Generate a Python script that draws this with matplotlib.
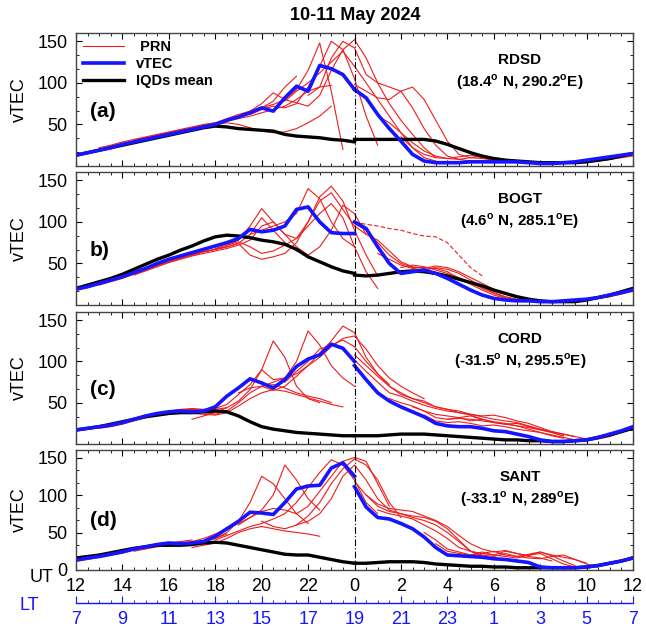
import numpy as np
import matplotlib
matplotlib.use('Agg')
import matplotlib.pyplot as plt
from matplotlib.ticker import MultipleLocator, AutoMinorLocator

plt.rcParams['font.family'] = ['Liberation Sans', 'DejaVu Sans']
plt.rcParams['mathtext.fontset'] = 'custom'
plt.rcParams['mathtext.rm'] = 'Liberation Sans'
plt.rcParams['mathtext.bf'] = 'Liberation Sans:bold'

# time grids (UT), 10 May 12:00 -> 11 May 12:00
ut_10 = np.arange(12, 24.01, 0.5)
ut_11 = np.arange(24, 36.01, 0.5)

stations = ['RDSD', 'BOGT', 'CORD', 'SANT']
coords = [r'(18.4$^{\mathbf{o}}$ N, 290.2$^{\mathbf{o}}$E)',
          r'(4.6$^{\mathbf{o}}$ N, 285.1$^{\mathbf{o}}$E)',
          r'(-31.5$^{\mathbf{o}}$ N, 295.5$^{\mathbf{o}}$E)',
          r'(-33.1$^{\mathbf{o}}$ N, 289$^{\mathbf{o}}$E)']
panel_tags = ['(a)', 'b)', '(c)', '(d)']

ut_ticks = [12, 14, 16, 18, 20, 22, 24, 26, 28, 30, 32, 34, 36]
ut_labels = ['12', '14', '16', '18', '20', '22', '0', '2', '4', '6', '8', '10', '12']
lt_labels = ['7', '9', '11', '13', '15', '17', '19', '21', '23', '1', '3', '5', '7']

# RDSD
vtec_rdsd_10 = [13, 16, 19, 22, 26, 29, 32, 35, 38, 41, 44, 47, 50, 55, 59, 64, 70, 66, 82, 96, 90, 121, 117, 110, 92]
vtec_rdsd_11 = [92, 82, 62, 45, 30, 14, 6, 4, 4, 4, 5, 5, 5, 5, 5, 4, 3, 3, 4, 5, 7, 9, 11, 13, 15]
iqd_rdsd_10 = [13, 16, 19, 22, 25, 28, 31, 34, 37, 40, 43, 46, 48, 47, 45, 44, 43, 42, 38, 36, 35, 34, 32, 31, 29]
iqd_rdsd_11 = [32, 32, 32, 32, 32, 32, 32, 30, 26, 21, 16, 12, 9, 7, 6, 5, 4, 4, 4, 4, 5, 7, 9, 12, 15]
prn_rdsd = [
    (12.0, [14, 17, 20, 24, 27, 30, 33]),
    (13.0, [22, 25, 29, 32, 35, 38, 41, 44, 47, 50, 52]),
    (14.5, [31, 34, 37, 40, 43, 46, 49, 52, 57, 62, 66, 70, 78, 95, 108]),
    (16.0, [39, 42, 45, 48, 51, 54, 57, 60, 64, 68, 72, 80, 90, 95, 97]),
    (17.0, [45, 48, 50, 52, 50, 46, 42, 40, 41, 45, 52, 60, 72]),
    (18.5, [55, 60, 66, 75, 88, 80, 76, 72, 85, 115, 140, 152, 130, 100, 75, 55, 38, 22, 10]),
    (19.5, [62, 68, 72, 70, 75, 95, 120, 150, 140, 105, 60, 25]),
    (20.0, [70, 74, 80, 92, 115, 148, 90, 20]),
    (21.0, [78, 90, 100, 112, 125, 138, 120, 100, 80, 60, 40, 22, 10, 6]),
    (22.0, [85, 95, 130, 150, 142, 110, 100, 95, 90, 70, 45, 25, 12, 8, 6, 6]),
    (24.0, [98, 90, 82, 80, 90, 95, 80, 55, 30, 14, 10, 12, 10, 8, 6, 5]),
    (25.0, [60, 52, 40, 28, 18, 12, 9, 8, 10, 9, 7, 6, 5, 5, 4, 4]),
    (26.0, [35, 22, 14, 10, 9, 11, 13, 10, 8, 7, 6, 5]),
    (29.0, [6, 5, 5, 5, 4, 4, 3, 3, 3, 4, 5, 6, 8, 10, 12]),
    (31.0, [5, 5, 4, 4, 4, 5, 5, 6, 8, 11, 14]),
]

# BOGT
vtec_bogt_10 = [19, 22, 26, 30, 34, 39, 44, 50, 55, 59, 63, 67, 71, 75, 80, 91, 88, 90, 95, 115, 118, 100, 87, 86, 86]
vtec_bogt_11 = [100, 92, 70, 50, 38, 40, 42, 38, 32, 25, 18, 12, 8, 6, 5, 5, 4, 4, 5, 6, 7, 9, 12, 15, 18]
iqd_bogt_10 = [20, 24, 28, 32, 37, 43, 49, 55, 60, 66, 71, 77, 82, 84, 83, 81, 78, 76, 73, 67, 58, 52, 46, 41, 38]
iqd_bogt_11 = [36, 35, 36, 38, 40, 41, 40, 38, 35, 31, 27, 23, 18, 14, 10, 7, 5, 4, 4, 4, 6, 9, 12, 16, 20]
prn_bogt = [
    (12.0, [18, 21, 25, 29, 33, 38, 43, 48, 53, 57]),
    (13.0, [24, 28, 32, 37, 42, 47, 52, 56, 60, 64, 67, 70]),
    (14.5, [36, 41, 46, 51, 55, 59, 62, 65, 68, 72, 78, 95, 100, 85, 70, 60]),
    (15.5, [48, 53, 57, 61, 64, 67, 70, 74, 85, 105, 90, 75, 65, 60, 70, 90, 120, 110, 85]),
    (17.0, [60, 64, 67, 70, 74, 60, 55, 58, 62, 75, 100, 130, 143, 125, 90, 60, 35]),
    (18.0, [68, 72, 78, 95, 116, 100, 85, 80, 100, 125, 135, 115, 95, 85]),
    (18.5, [72, 76, 70, 62, 65, 72, 80, 95, 110, 122, 105, 70, 40, 20]),
    (19.5, [85, 90, 95, 100, 110, 140, 128, 100, 80, 70]),
    (24.0, [98, 90, 75, 60, 50, 45, 45, 44, 40, 32, 25, 18, 12, 8, 6, 5]),
    (24.5, [85, 78, 65, 52, 46, 44, 47, 45, 40, 33, 26, 19, 13, 9, 7]),
    (25.0, [62, 55, 48, 44, 42, 45, 43, 38, 30, 22, 15, 10, 7, 5, 4]),
    (26.0, [45, 48, 46, 42, 38, 33, 27, 20, 14, 9, 6]),
    (30.0, [7, 6, 5, 5, 4, 4, 4, 5, 6, 8, 10, 13, 17]),
    (32.0, [4, 4, 5, 5, 6, 8, 10, 14, 20]),
]
prn_bogt_dashed = (24.0, [100, 97, 95, 92, 90, 86, 83, 82, 75, 60, 45, 35])

# CORD
vtec_cord_10 = [17, 19, 21, 23, 26, 30, 34, 37, 39, 40, 39, 40, 45, 58, 68, 79, 74, 68, 78, 94, 103, 108, 121, 116, 100]
vtec_cord_11 = [95, 78, 62, 52, 45, 39, 33, 25, 22, 21, 21, 19, 16, 15, 12, 9, 5, 3, 3, 4, 5, 8, 12, 16, 21]
iqd_cord_10 = [17, 19, 21, 24, 27, 30, 33, 35, 37, 38, 38, 39, 40, 39, 34, 27, 21, 18, 16, 14, 13, 12, 11, 10, 10]
iqd_cord_11 = [10, 10, 10, 11, 12, 12, 12, 11, 10, 9, 8, 7, 6, 5, 5, 4, 4, 3, 3, 4, 5, 8, 11, 15, 19]
prn_cord = [
    (12.0, [16, 18, 20, 23, 26, 30, 34, 37]),
    (13.0, [19, 21, 24, 28, 32, 36, 39, 41, 42, 41, 42, 44]),
    (14.0, [25, 29, 33, 37, 40, 42, 43, 42, 43, 48, 60, 72, 90, 125, 105, 70, 55, 50]),
    (15.5, [36, 39, 41, 40, 38, 36, 40, 50, 62, 70, 72, 68, 62, 58, 55, 50]),
    (16.5, [38, 37, 36, 35, 38, 46, 55, 62, 66, 64, 60, 56, 52, 48, 45]),
    (17.0, [30, 34, 38, 44, 52, 66, 90, 78, 80, 100, 137, 120, 95, 80, 70]),
    (19.0, [62, 68, 70, 75, 80, 85, 95, 110, 125, 143, 135, 105, 85, 72]),
    (20.0, [70, 65, 70, 82, 95, 105, 118, 128, 131, 115, 95, 80, 70, 62, 55]),
    (21.0, [75, 88, 100, 115, 120, 126, 118, 100, 85, 70, 60, 55, 52, 45, 42, 38, 35, 30]),
    (24.0, [102, 88, 75, 62, 58, 52, 47, 43, 40, 38, 36, 34, 35, 32, 28, 25, 20, 15, 12, 9]),
    (24.0, [108, 95, 82, 70, 62, 55, 50, 45, 42, 40, 36, 33, 30, 28, 26, 22, 18, 14, 10]),
    (25.5, [55, 50, 46, 40, 32, 30, 31, 30, 28, 26, 24, 22, 18, 14, 10, 7]),
    (26.5, [45, 40, 36, 34, 32, 34, 30, 27, 25, 22, 20, 17, 14, 10]),
    (27.0, [35, 28, 26, 27, 25, 22, 23, 21, 18, 16, 14, 11, 8, 5, 4]),
    (28.0, [30, 32, 28, 30, 26, 24, 25, 21, 18, 15, 12, 9, 6]),
    (32.0, [5, 4, 3, 3, 4, 6, 9, 14, 22]),
]

# SANT
vtec_sant_10 = [13, 16, 18, 21, 24, 28, 31, 34, 36, 35, 36, 38, 45, 55, 65, 77, 76, 74, 90, 108, 112, 113, 136, 143, 125]
vtec_sant_11 = [111, 84, 70, 68, 62, 55, 44, 30, 20, 19, 18, 17, 15, 14, 12, 10, 4, 3, 3, 3, 4, 6, 9, 12, 16]
iqd_sant_10 = [16, 18, 20, 23, 26, 29, 31, 33, 33, 33, 34, 36, 37, 36, 33, 30, 27, 24, 21, 20, 20, 17, 14, 11, 9]
iqd_sant_11 = [9, 9, 10, 11, 11, 11, 10, 8, 7, 6, 5, 5, 4, 4, 3, 3, 3, 3, 3, 3, 4, 6, 9, 12, 16]
prn_sant = [
    (12.0, [12, 14, 17, 20, 23, 27, 30, 33]),
    (13.5, [20, 23, 27, 30, 33, 36, 38, 40]),
    (14.5, [25, 28, 31, 33, 35, 37, 39, 42, 48]),
    (15.5, [32, 33, 34, 36, 38, 42, 50, 65, 90, 125, 115, 95, 75, 62]),
    (16.5, [35, 38, 42, 48, 55, 62, 70, 80, 100, 140, 120, 95, 80]),
    (17.0, [30, 33, 36, 42, 50, 55, 58, 55, 52, 50, 48, 45]),
    (18.0, [40, 46, 52, 58, 62, 68, 75, 90, 110, 130, 147, 140, 120, 90, 75]),
    (19.0, [60, 70, 78, 82, 80, 75, 85, 105, 125, 145, 150, 145, 115, 85]),
    (20.0, [65, 58, 55, 60, 72, 90, 115, 135, 148, 140, 120, 90, 70]),
    (21.5, [60, 65, 75, 95, 125, 140, 120, 95, 80, 75, 72, 70, 65, 55, 40, 25, 18]),
    (24.0, [118, 100, 85, 78, 75, 70, 66, 60, 50, 38, 25, 20, 18, 22, 18, 16, 15, 18, 20, 14, 8, 4]),
    (24.5, [100, 88, 82, 80, 78, 72, 66, 58, 46, 35, 28, 24, 26, 22, 19, 24, 20, 17, 14, 9]),
    (25.0, [80, 75, 72, 68, 60, 52, 42, 30, 25, 22, 20, 25, 22, 18, 16, 12]),
    (27.0, [50, 40, 28, 24, 20, 22, 25, 20, 18, 21, 24, 19, 12, 6]),
    (27.5, [35, 25, 22, 20, 24, 20, 18, 16, 20, 22, 15, 8, 4, 3]),
    (32.0, [4, 3, 3, 3, 4, 6, 9, 13, 18]),
]

vtec_10 = [vtec_rdsd_10, vtec_bogt_10, vtec_cord_10, vtec_sant_10]
vtec_11 = [vtec_rdsd_11, vtec_bogt_11, vtec_cord_11, vtec_sant_11]
iqd_10 = [iqd_rdsd_10, iqd_bogt_10, iqd_cord_10, iqd_sant_10]
iqd_11 = [iqd_rdsd_11, iqd_bogt_11, iqd_cord_11, iqd_sant_11]
prns = [prn_rdsd, prn_bogt, prn_cord, prn_sant]

W, H = 646, 631
fig = plt.figure(figsize=(W / 100, H / 100), dpi=100)

# panel extents in pixels (top, bottom)
boxes = [(33, 166), (172, 305), (312, 444), (450, 570)]
left_px, right_px = 76, 633
red = '#ee1c1c'
blue = '#1515ff'

axes = []
for i, (top, bot) in enumerate(boxes):
    ax = fig.add_axes([left_px / W, 1 - bot / H, (right_px - left_px) / W, (bot - top) / H])
    axes.append(ax)
    for start, vals in prns[i]:
        t = start + 0.5 * np.arange(len(vals))
        lp, = ax.plot(t, vals, color=red, lw=0.8)
    if i == 1:
        start, vals = prn_bogt_dashed
        t = start + 0.5 * np.arange(len(vals))
        ax.plot(t, vals, color=red, lw=0.8, ls=(0, (4, 2)))
    lk, = ax.plot(ut_10, iqd_10[i], color='black', lw=2.4)
    ax.plot(ut_11, iqd_11[i], color='black', lw=2.4)
    lb, = ax.plot(ut_10, vtec_10[i], color=blue, lw=2.6)
    ax.plot(ut_11, vtec_11[i], color=blue, lw=2.6)
    ax.axvline(24, color='black', lw=0.8, ls=(0, (6, 2, 1, 2)))

    ax.set_xlim(12, 36)
    ax.set_ylim(0, 160)
    ax.xaxis.set_major_locator(MultipleLocator(2))
    ax.xaxis.set_minor_locator(MultipleLocator(0.5))
    ax.yaxis.set_minor_locator(AutoMinorLocator(3))
    if i == 3:
        ax.set_yticks([0, 50, 100, 150])
        ax.set_xticks(ut_ticks)
        ax.set_xticklabels(ut_labels)
    else:
        ax.set_yticks([50, 100, 150])
        ax.set_xticklabels([])
    ax.tick_params(which='both', direction='in', top=True, right=True, labelsize=13)
    ax.tick_params(which='major', length=4, width=0.8)
    ax.tick_params(which='minor', length=2, width=0.6)
    ax.tick_params(axis='x', pad=6)
    ax.tick_params(axis='y', pad=6)
    for s in ax.spines.values():
        s.set_color('#444444')
        s.set_linewidth(1.0)
    ax.set_ylabel('vTEC', fontsize=13, labelpad=7)

    ax.text(12.6, 66, panel_tags[i], fontsize=15, fontweight='bold', ha='left', va='center')
    ax.annotate(stations[i], xy=(0.797, 1), xycoords='axes fraction', xytext=(0, -27),
                textcoords='offset pixels', ha='center', va='center', fontsize=11, fontweight='bold')
    ax.annotate(coords[i], xy=(0.797, 1), xycoords='axes fraction', xytext=(0, -49),
                textcoords='offset pixels', ha='center', va='center', fontsize=11, fontweight='bold')

    if i == 0:
        ax.legend([lp, lb, lk], [' PRN', 'vTEC', 'IQDs mean'], loc='upper left', frameon=False,
                  prop={'weight': 'bold', 'size': 10.5}, handlelength=2.8, handletextpad=0.8,
                  labelspacing=0.2, borderaxespad=0.2, borderpad=0.3)

# local time axis
ax_lt = fig.add_axes([left_px / W, 1 - 603 / H, (right_px - left_px) / W, 0.0001])
ax_lt.set_xlim(12, 36)
ax_lt.set_yticks([])
for side in ['top', 'left', 'right']:
    ax_lt.spines[side].set_visible(False)
ax_lt.spines['bottom'].set_color(blue)
ax_lt.spines['bottom'].set_linewidth(1.0)
ax_lt.set_xticks(ut_ticks)
ax_lt.set_xticklabels(lt_labels)
ax_lt.xaxis.set_minor_locator(MultipleLocator(0.5))
ax_lt.tick_params(axis='x', which='both', direction='in', colors=blue, labelsize=13, pad=6)
ax_lt.tick_params(axis='x', which='major', length=5)
ax_lt.tick_params(axis='x', which='minor', length=2)

fig.text(42 / W, 1 - 577 / H, 'UT', fontsize=13, ha='center', va='center')
fig.text(29 / W, 1 - 606 / H, 'LT', fontsize=13, ha='center', va='center', color=blue)
fig.text(355 / W, 1 - 15 / H, '10-11 May 2024', fontsize=13, fontweight='bold', ha='center', va='center')

fig.savefig('out.png', dpi=100)
